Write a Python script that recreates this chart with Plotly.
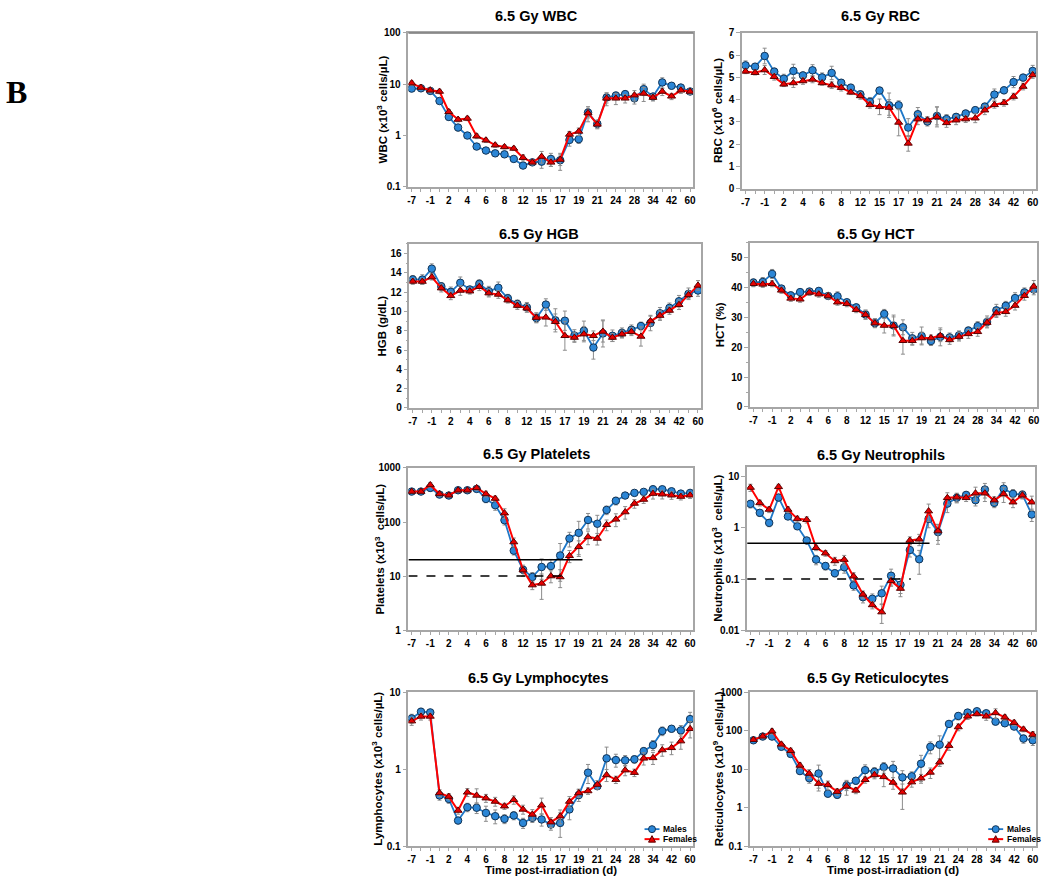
import plotly.graph_objects as go

# ---------------- data ----------------
days = ["-7", "-4", "-1", "1", "2", "3", "4", "5", "6", "7", "8", "10", "12", "13", "15", "16",
        "17", "18", "19", "20", "21", "22", "24", "26", "28", "31", "34", "38", "42", "50", "60"]
tick_labels = ["-7", "-1", "2", "4", "6", "8", "12", "15", "17", "19", "21", "24", "28", "34", "42", "60"]

wbc_m = [8.2, 8.3, 7.4, 4.7, 2.3, 1.43, 1.0, 0.61, 0.51, 0.45, 0.43, 0.35, 0.26, 0.30, 0.31, 0.35,
         0.33, 0.82, 0.85, 2.8, 1.69, 5.5, 6.0, 6.4, 5.3, 8.0, 5.75, 10.8, 9.3, 8.6, 7.2]
wbc_f = [10.5, 8.6, 7.6, 7.2, 2.9, 2.05, 2.15, 0.97, 0.81, 0.65, 0.6, 0.56, 0.37, 0.30, 0.39, 0.30,
         0.34, 1.05, 1.2, 2.75, 1.65, 5.3, 5.3, 5.3, 6.1, 6.6, 5.5, 7.2, 5.8, 7.6, 7.2]
wbc_m_err = [1.0, 0.8, 0.8, 0.5, 0.3, 0.2, 0.1, 0.06, 0.05, 0.05, 0.05, 0.04, 0.03, 0.03, 0.08, 0.1,
             0.12, 0.2, 0.15, 0.6, 0.3, 1.2, 1.0, 1.0, 1.2, 2.0, 0.8, 2.5, 1.2, 1.0, 0.8]
wbc_f_err = [1.0, 0.8, 0.8, 0.7, 0.3, 0.2, 0.2, 0.1, 0.08, 0.06, 0.05, 0.05, 0.05, 0.03, 0.1, 0.05,
             0.08, 0.15, 0.2, 0.9, 0.3, 1.5, 1.3, 1.0, 1.4, 2.0, 0.8, 1.2, 0.8, 1.0, 0.8]

rbc_m = [5.54, 5.48, 5.96, 5.26, 4.94, 5.29, 5.09, 5.32, 5.0, 5.2, 4.76, 4.54, 4.24, 3.9, 4.41, 3.75,
         3.75, 2.75, 3.35, 3.02, 3.27, 3.13, 3.23, 3.38, 3.53, 3.69, 4.23, 4.42, 4.79, 4.99, 5.29]
rbc_f = [5.27, 5.21, 5.33, 5.03, 4.69, 4.75, 4.84, 4.91, 4.75, 4.65, 4.54, 4.33, 4.17, 3.77, 3.68, 3.65,
         2.98, 2.04, 3.13, 3.08, 3.23, 2.96, 3.08, 3.13, 3.17, 3.53, 3.77, 3.86, 4.14, 4.59, 5.11]
rbc_m_err = [0.2, 0.15, 0.35, 0.15, 0.2, 0.3, 0.15, 0.25, 0.2, 0.3, 0.15, 0.15, 0.15, 0.2, 0.15, 0.55,
             0.2, 0.4, 0.3, 0.2, 0.4, 0.2, 0.15, 0.15, 0.15, 0.15, 0.25, 0.15, 0.25, 0.15, 0.25]
rbc_f_err = [0.1, 0.1, 0.2, 0.15, 0.1, 0.2, 0.15, 0.15, 0.1, 0.15, 0.15, 0.1, 0.15, 0.15, 0.35, 0.35,
             0.6, 0.35, 0.25, 0.15, 0.45, 0.2, 0.2, 0.15, 0.2, 0.2, 0.15, 0.15, 0.15, 0.15, 0.15]

hgb_m = [13.32, 13.3, 14.43, 12.6, 12.03, 12.97, 12.28, 12.87, 12.1, 12.45, 11.37, 10.78, 10.43, 9.32,
         10.71, 9.08, 9.04, 7.51, 8.0, 6.26, 7.72, 7.48, 7.79, 8.1, 8.49, 8.8, 9.81, 10.37, 11.06, 11.83, 12.17]
hgb_f = [13.11, 13.1, 13.56, 12.42, 11.62, 12.17, 12.1, 12.56, 11.9, 11.76, 11.17, 10.61, 10.33, 9.36,
         9.39, 8.94, 7.48, 7.3, 7.65, 7.48, 7.93, 7.3, 7.65, 7.9, 7.41, 9.01, 9.57, 10.1, 10.7, 11.72, 12.7]
hgb_m_err = [0.4, 0.5, 0.5, 0.4, 0.5, 0.6, 0.3, 0.4, 0.5, 0.6, 0.4, 0.4, 0.5, 0.5, 0.6, 1.2,
             1.0, 0.6, 1.0, 1.2, 1.4, 0.6, 0.5, 0.5, 0.4, 0.8, 0.6, 0.5, 0.6, 0.6, 0.6]
hgb_f_err = [0.3, 0.3, 0.3, 0.4, 0.4, 0.5, 0.3, 0.4, 0.4, 0.4, 0.3, 0.4, 0.4, 0.5, 0.9, 0.8,
             1.5, 0.5, 0.8, 0.5, 1.1, 0.4, 0.4, 0.4, 1.0, 0.5, 0.5, 0.4, 0.5, 0.4, 0.5]

hct_m = [41.7, 41.9, 44.6, 39.7, 37.4, 38.5, 38.7, 38.9, 37.2, 37.1, 35.1, 33.4, 31.0, 28.1, 31.2, 27.3,
         26.7, 23.0, 23.8, 22.1, 23.5, 23.3, 24.0, 25.6, 27.1, 28.5, 32.4, 33.9, 36.5, 38.4, 39.4]
hct_f = [41.3, 41.1, 41.3, 39.1, 36.4, 36.1, 38.4, 37.8, 37.2, 35.1, 34.6, 32.6, 30.9, 28.1, 27.3, 27.2,
         22.2, 22.2, 23.1, 23.1, 23.9, 22.5, 23.6, 24.5, 25.2, 28.3, 31.5, 31.9, 34.0, 37.3, 40.4]
hct_m_err = [1.2, 1.5, 1.5, 1.0, 1.2, 1.0, 1.0, 1.0, 1.0, 1.5, 1.0, 1.0, 1.5, 1.5, 1.5, 3.5,
             2.5, 2.0, 3.0, 1.5, 3.0, 1.5, 1.5, 1.2, 1.5, 2.0, 2.0, 1.5, 1.8, 1.5, 1.8]
hct_f_err = [1.0, 1.0, 1.0, 1.0, 1.0, 1.0, 1.0, 1.0, 1.0, 1.0, 1.0, 1.0, 1.5, 1.5, 2.5, 3.0,
             4.5, 1.5, 2.0, 1.0, 2.0, 1.5, 1.5, 1.5, 1.5, 1.5, 1.5, 1.5, 1.5, 1.5, 2.0]

plt_m = [366, 366, 428, 322, 309, 387, 387, 410, 268, 205, 108, 29.5, 13.1, 9.6, 14.7, 15.3,
         24, 49.5, 63, 109, 93, 167, 247, 309, 346, 361, 404, 404, 371, 336, 346]
plt_f = [366, 366, 486, 331, 313, 387, 387, 428, 331, 272, 146, 42.6, 12.9, 6.8, 7.3, 10,
         9.6, 23.7, 34.8, 53, 49.5, 89, 112, 153, 220, 261, 336, 327, 313, 296, 313]
plt_m_err = [30, 30, 60, 30, 25, 30, 30, 40, 40, 40, 20, 5, 2, 2, 6, 5,
             16, 15, 40, 35, 40, 30, 40, 30, 30, 40, 60, 50, 40, 40, 40]
plt_f_err = [30, 30, 50, 30, 25, 30, 30, 40, 40, 30, 30, 8, 3, 1.2, 3.6, 2.5,
             3.5, 6, 10, 15, 12, 20, 30, 40, 40, 40, 70, 60, 50, 40, 40]
plt_thresholds = [20, 10]

neu_m = [2.97, 1.98, 1.26, 3.95, 1.68, 1.08, 0.57, 0.24, 0.18, 0.13, 0.17, 0.075, 0.044, 0.041, 0.0525, 0.116,
         0.077, 0.37, 0.244, 1.51, 0.83, 3.0, 3.9, 4.45, 3.5, 5.66, 3.1, 5.9, 4.66, 4.5, 1.84]
neu_f = [6.2, 3.1, 2.3, 6.4, 2.3, 1.51, 1.45, 0.41, 0.32, 0.226, 0.24, 0.113, 0.05, 0.031, 0.0225, 0.092,
         0.065, 0.57, 0.6, 2.14, 0.87, 3.9, 4.0, 3.9, 4.8, 4.8, 3.5, 4.66, 3.2, 4.4, 3.2]
neu_m_err = [0.5, 0.3, 0.2, 0.6, 0.2, 0.15, 0.08, 0.05, 0.03, 0.02, 0.04, 0.015, 0.01, 0.01, 0.02, 0.04,
             0.025, 0.1, 0.12, 0.5, 0.35, 1.0, 0.8, 0.6, 0.8, 1.8, 0.6, 1.8, 1.0, 0.8, 0.5]
neu_f_err = [1.0, 0.4, 0.3, 0.8, 0.3, 0.2, 0.2, 0.05, 0.04, 0.04, 0.05, 0.02, 0.008, 0.005, 0.009, 0.02,
             0.02, 0.1, 0.15, 0.8, 0.3, 1.0, 0.8, 0.6, 1.5, 1.5, 0.6, 1.5, 0.7, 0.6, 1.0]
neu_thresholds = [0.5, 0.1]

lym_m = [4.55, 5.56, 5.45, 0.455, 0.41, 0.215, 0.32, 0.315, 0.27, 0.245, 0.226, 0.25, 0.2, 0.233, 0.222, 0.191,
         0.2, 0.3, 0.46, 0.9, 0.6, 1.38, 1.31, 1.3, 1.34, 1.71, 2.05, 3.12, 3.34, 3.18, 4.46]
lym_f = [4.2, 4.83, 4.83, 0.49, 0.44, 0.29, 0.5, 0.455, 0.42, 0.38, 0.33, 0.40, 0.3, 0.258, 0.34, 0.205,
         0.245, 0.38, 0.49, 0.52, 0.63, 0.84, 0.73, 0.97, 0.9, 1.38, 1.4, 1.77, 1.89, 2.31, 3.34]
lym_m_err = [0.6, 0.6, 0.5, 0.06, 0.05, 0.02, 0.04, 0.05, 0.06, 0.05, 0.03, 0.03, 0.03, 0.03, 0.04, 0.03,
             0.07, 0.08, 0.08, 0.25, 0.05, 0.55, 0.25, 0.2, 0.15, 0.2, 0.3, 0.4, 0.3, 0.5, 1.0]
lym_f_err = [0.5, 0.5, 0.5, 0.05, 0.04, 0.03, 0.06, 0.1, 0.05, 0.05, 0.03, 0.05, 0.04, 0.04, 0.08, 0.03,
             0.05, 0.06, 0.06, 0.05, 0.08, 0.15, 0.08, 0.15, 0.1, 0.25, 0.25, 0.3, 0.35, 0.5, 0.8]

ret_m = [56, 70, 70, 38, 24.8, 8.9, 5.8, 7.7, 2.3, 2.15, 3.77, 5.0, 9.4, 8.5, 11.3, 10.4,
         6.1, 6.5, 13.8, 38, 43, 149, 240, 294, 318, 282, 171, 155, 127, 62, 56]
ret_f = [58, 71, 96, 44, 30, 12.5, 7.7, 4.2, 3.9, 2.6, 3.6, 2.8, 5.3, 7.1, 6.3, 4.5,
         2.5, 4.6, 5.8, 8.2, 15.2, 40.7, 124, 235, 271, 235, 288, 222, 161, 108, 79]
ret_m_err = [5, 5, 10, 6, 4, 1.5, 1.5, 5, 0.4, 0.4, 1.0, 1.0, 3.5, 2.5, 3.5, 5.5,
             3, 2, 9, 13, 30, 25, 50, 40, 50, 40, 30, 25, 20, 15, 15]
ret_f_err = [5, 8, 15, 6, 5, 2, 2, 1, 1, 0.5, 1.5, 0.5, 1, 1.5, 2.8, 1.5,
             1.6, 1.2, 1.5, 2.5, 3.5, 10, 25, 40, 30, 50, 80, 35, 25, 15, 15]

series_names = ["Males", "Females"]

# ---------------- style ----------------
W, H = 1050, 883
FONT = "Liberation Sans, Arial, sans-serif"
BLUE_LINE = "#1F78C8"
BLUE_FILL = "#2B86D6"
BLUE_EDGE = "#123456"
RED_LINE = "#FF0000"
RED_FILL = "#E60000"
RED_EDGE = "#5C0000"
ERR = "#8C8C8C"
FRAME = "#A6A6A6"
# vertical placement correction observed in the capture
Y_OFF, Y_SCALE = 5.2, 0.986


def px(x):
    return x / W


def py(y):
    return 1 - ((y - Y_OFF) / Y_SCALE) / H


panels = [
    dict(title="6.5 Gy WBC", ytitle="WBC (x10<sup>3</sup> cells/µL)", m=wbc_m, f=wbc_f, me=wbc_m_err, fe=wbc_f_err,
         dom=(409, 695, 32, 186), log=True, yr=(-1, 2), tv=[0.1, 1, 10, 100], tt=["0.1", "1", "10", "100"],
         tpos=(538, 15), ytx=382),
    dict(title="6.5 Gy RBC", ytitle="RBC (x10<sup>6</sup> cells/µL)", m=rbc_m, f=rbc_f, me=rbc_m_err, fe=rbc_f_err,
         dom=(744, 1039, 32, 188), log=False, yr=(0, 7), dt=1, minor=None,
         tpos=(883, 15), ytx=719),
    dict(title="6.5 Gy HGB", ytitle="HGB (g/dL)", m=hgb_m, f=hgb_f, me=hgb_m_err, fe=hgb_f_err,
         dom=(410, 703, 243, 407), log=False, yr=(0, 17), dt=2, minor=1,
         tpos=(540, 233), ytx=382),
    dict(title="6.5 Gy HCT", ytitle="HCT (%)", m=hct_m, f=hct_f, me=hct_m_err, fe=hct_f_err,
         dom=(752, 1040, 242, 406), log=False, yr=(0, 55), dt=10, minor=5,
         tpos=(878, 233), ytx=722),
    dict(title="6.5 Gy Platelets", ytitle="Platelets (x10<sup>3</sup>  cells/µL)", m=plt_m, f=plt_f, me=plt_m_err, fe=plt_f_err,
         dom=(409, 695, 467, 629), log=True, yr=(0, 3), tv=[1, 10, 100, 1000], tt=["1", "10", "100", "1000"],
         tpos=(538, 453), ytx=380, thr=plt_thresholds, thr_end=(18.4, 16.8)),
    dict(title="6.5 Gy Neutrophils", ytitle="Neutrophils (x10<sup>3</sup>  cells/µL)", m=neu_m, f=neu_f, me=neu_m_err, fe=neu_f_err,
         dom=(749, 1038, 466, 629), log=True, yr=(-2, 1.195), tv=[0.01, 0.1, 1, 10], tt=["0.01", "0.1", "1", "10"],
         tpos=(883, 454), ytx=718, thr=neu_thresholds, thr_end=(19.1, 17.1)),
    dict(title="6.5 Gy Lymphocytes", ytitle="Lymphocytes (x10<sup>3</sup> cells/µL)", m=lym_m, f=lym_f, me=lym_m_err, fe=lym_f_err,
         dom=(409, 695, 691, 845), log=True, yr=(-1, 1), tv=[0.1, 1, 10], tt=["0.1", "1", "10"],
         tpos=(540, 677), ytx=378, xtitle=True, legend=(646, 828)),
    dict(title="6.5 Gy Reticulocytes", ytitle="Reticulocytes (x10<sup>9</sup> cells/µL)", m=ret_m, f=ret_f, me=ret_m_err, fe=ret_f_err,
         dom=(752, 1039, 691, 845), log=True, yr=(-1, 3), tv=[0.1, 1, 10, 100, 1000], tt=["0.1", "1", "10", "100", "1000"],
         tpos=(880, 677), ytx=720, xtitle=True, legend=(991, 828)),
]

fig = go.Figure()
layout = dict(
    width=W, height=H, margin=dict(l=0, r=0, t=0, b=0, pad=0),
    paper_bgcolor="white", plot_bgcolor="white",
    font=dict(family=FONT, color="black"),
    showlegend=False,
)
annotations = []
shapes = []

tick_text_all = [d if d in tick_labels else "" for d in days]
styles = [
    (BLUE_LINE, BLUE_FILL, BLUE_EDGE, "circle", 7.5, 1.8),
    (RED_LINE, RED_FILL, RED_EDGE, "triangle-up", 7, 2.0),
]

for i, p in enumerate(panels, start=1):
    xa = "x" if i == 1 else f"x{i}"
    ya = "y" if i == 1 else f"y{i}"
    x0, x1, y0, y1 = p["dom"]
    for name, vals, errs, st in zip(series_names, [p["m"], p["f"]], [p["me"], p["fe"]], styles):
        lc, fc, ec, sym, sz, lw = st
        fig.add_trace(go.Scatter(
            x=days, y=vals, xaxis=xa, yaxis=ya, mode="lines+markers", name=name,
            line=dict(color=lc, width=lw),
            marker=dict(symbol=sym, size=sz, color=fc, line=dict(color=ec, width=1)),
            error_y=dict(type="data", array=errs, visible=True, color=ERR, thickness=1, width=2),
        ))

    xkey = "xaxis" if i == 1 else f"xaxis{i}"
    ykey = "yaxis" if i == 1 else f"yaxis{i}"
    layout[xkey] = dict(
        domain=[px(x0), px(x1)], anchor=ya, type="category",
        categoryorder="array", categoryarray=days,
        range=[-0.35, len(days) - 1 + 0.35],
        tickmode="array", tickvals=days, ticktext=tick_text_all,
        ticks="outside", ticklen=3, tickcolor=FRAME, tickwidth=1,
        showline=True, linecolor=FRAME, linewidth=1.5, mirror=True,
        showgrid=False, zeroline=False,
        tickfont=dict(family=FONT, size=10, color="black", weight="bold"),
    )
    yd = dict(
        domain=[py(y1), py(y0)], anchor=xa,
        showline=True, linecolor=FRAME, linewidth=1.5, mirror=True,
        ticks="outside", ticklen=4, tickcolor=FRAME, tickwidth=1,
        showgrid=False, zeroline=False,
        tickfont=dict(family=FONT, size=10, color="black", weight="bold"),
    )
    if p["log"]:
        yd.update(type="log", range=list(p["yr"]), tickmode="array", tickvals=p["tv"], ticktext=p["tt"])
    else:
        yd.update(type="linear", range=list(p["yr"]), dtick=p["dt"], tick0=0)
        if p.get("minor"):
            yd["minor"] = dict(dtick=p["minor"], ticks="outside", ticklen=2, tickcolor=FRAME, showgrid=False)
    layout[ykey] = yd

    # panel title
    annotations.append(dict(
        text=f"<b>{p['title']}</b>", x=px(p["tpos"][0]), y=py(p["tpos"][1]), xref="paper", yref="paper",
        showarrow=False, xanchor="center", yanchor="middle", font=dict(family=FONT, size=14.5, color="black")))
    # y title
    annotations.append(dict(
        text=f"<b>{p['ytitle']}</b>", x=px(p["ytx"]), y=py((y0 + y1) / 2), xref="paper", yref="paper",
        showarrow=False, textangle=-90, xanchor="center", yanchor="middle",
        font=dict(family=FONT, size=11.5, color="black")))
    if p.get("xtitle"):
        annotations.append(dict(
            text="<b>Time post-irradiation (d)</b>", x=(px(x0) + px(x1)) / 2, y=py(869), xref="paper", yref="paper",
            showarrow=False, xanchor="center", yanchor="middle", font=dict(family=FONT, size=11.5, color="black")))
    # threshold lines
    if p.get("thr"):
        for val, xend, dash in zip(p["thr"], p["thr_end"], ["solid", "dash"]):
            shapes.append(dict(type="line", xref=xa, yref=ya, x0=-0.35, x1=xend,
                               y0=val, y1=val, line=dict(color="black", width=1.5, dash=dash)))
    # legend (drawn key + text)
    if p.get("legend"):
        lx, ly = p["legend"]
        for k, (name, st) in enumerate(zip(series_names, styles)):
            lc, fc, ec, sym, sz, lw = st
            yy = ly + 10 * k
            shapes.append(dict(type="line", xref="paper", yref="paper", x0=px(lx), x1=px(lx + 15),
                               y0=py(yy), y1=py(yy), line=dict(color=lc, width=lw)))
            cx = lx + 7.5
            if sym == "circle":
                r = 3.5
                shapes.append(dict(type="circle", xref="paper", yref="paper",
                                   x0=px(cx - r), x1=px(cx + r), y0=py(yy + r), y1=py(yy - r),
                                   fillcolor=fc, line=dict(color=ec, width=1)))
            else:
                path = (f"M {px(cx - 3.5)},{py(yy + 3)} L {px(cx + 3.5)},{py(yy + 3)} "
                        f"L {px(cx)},{py(yy - 3.5)} Z")
                shapes.append(dict(type="path", xref="paper", yref="paper", path=path,
                                   fillcolor=fc, line=dict(color=ec, width=1)))
            annotations.append(dict(
                text=f"<b>{name}</b>", x=px(lx + 17), y=py(yy), xref="paper", yref="paper",
                showarrow=False, xanchor="left", yanchor="middle",
                font=dict(family=FONT, size=8.5, color="black")))

# dark top line in WBC panel
shapes.append(dict(type="line", xref="x domain", yref="y", x0=0, x1=1, y0=100, y1=100,
                   line=dict(color="#333333", width=1.5)))

# panel label
annotations.append(dict(text="<b>B</b>", x=px(16), y=py(91), xref="paper", yref="paper", showarrow=False,
                        xanchor="center", yanchor="middle",
                        font=dict(family="Liberation Serif, Times New Roman, serif", size=32, color="black")))

layout["annotations"] = annotations
layout["shapes"] = shapes
fig.update_layout(**layout)

fig.write_html(
    "out.html",
    config={"displayModeBar": False},
    post_script="document.body.style.margin='0';document.body.style.padding='0';"
                "document.documentElement.style.overflow='hidden';",
)
